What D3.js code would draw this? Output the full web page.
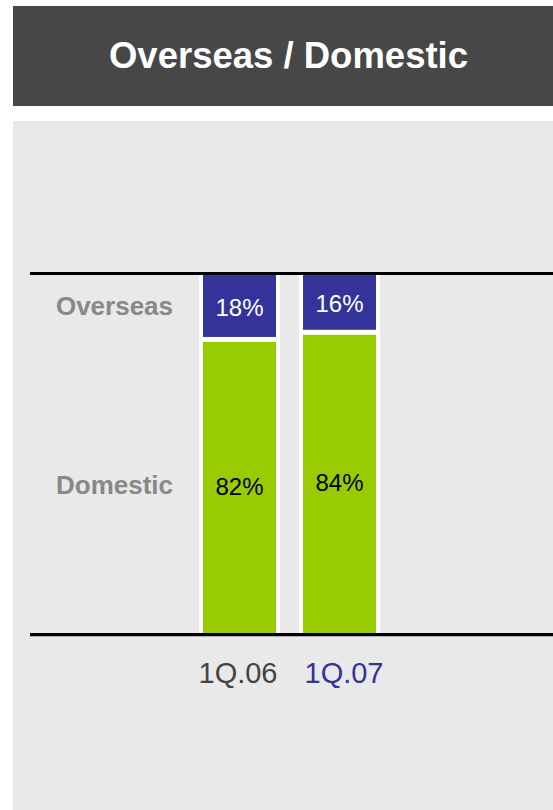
<!DOCTYPE html>
<html>
<head>
<meta charset="utf-8">
<script src="https://cdn.jsdelivr.net/npm/d3@7"></script>
<style>
  body { margin: 0; background: #fff; }
  text { font-family: "Liberation Sans", Arial, sans-serif; }
</style>
</head>
<body>
<script>
// periods on the x axis and the share of each region (in %)
let periods = ["1Q.06", "1Q.07"];
let regions = ["Domestic", "Overseas"];
let domestic = [82, 84];
let overseas = [18, 16];
let tickColors = ["#444444", "#333399"];

let w = 553, h = 810;
let colors = {Domestic: "#99cc00", Overseas: "#333399"};
let labelColors = {Domestic: "#000000", Overseas: "#ffffff"};

let svg = d3.select("body").append("svg")
  .attr("width", w)
  .attr("height", h);

// title box
svg.append("rect")
  .attr("x", 13).attr("y", 6)
  .attr("width", w - 13).attr("height", 100)
  .attr("fill", "#474747");
svg.append("text")
  .text("Overseas / Domestic")
  .attr("x", 288.5).attr("y", 68)
  .attr("text-anchor", "middle")
  .attr("font-size", "36.5px")
  .attr("font-weight", "bold")
  .attr("fill", "#fff");

// grey panel
svg.append("rect")
  .attr("x", 13).attr("y", 121)
  .attr("width", w - 13).attr("height", h - 121)
  .attr("fill", "#e9e9e9");

let yTop = 275, yBottom = 633;
let xScale = d3.scalePoint().domain(periods).range([239.5, 339.5]);
let yScale = d3.scaleLinear().domain([0, 100]).range([yBottom, yTop]);
let barW = 81, inset = 4;

let table = periods.map(function (p, i) {
  return {period: p, Domestic: domestic[i], Overseas: overseas[i]};
});
let series = d3.stack().keys(regions)(table);

// white backing of each bar
svg.selectAll(".back")
  .data(periods)
  .enter().append("rect")
  .attr("class", "back")
  .attr("x", function (d) { return xScale(d) - barW / 2; })
  .attr("y", yTop)
  .attr("width", barW)
  .attr("height", yBottom - yTop)
  .attr("fill", "#fff");

let groups = svg.selectAll(".series")
  .data(series)
  .enter().append("g")
  .attr("class", "series");

groups.selectAll("rect")
  .data(function (s) { return s.map(function (d) { return {key: s.key, d: d}; }); })
  .enter().append("rect")
  .attr("x", function (o) { return xScale(o.d.data.period) - barW / 2 + inset; })
  .attr("y", function (o) {
    return yScale(o.d[1]) + (o.d[1] < 100 ? 2.5 : 0);
  })
  .attr("width", barW - 2 * inset)
  .attr("height", function (o) {
    let y0 = yScale(o.d[0]) - (o.d[0] > 0 ? 2.5 : 0);
    let y1 = yScale(o.d[1]) + (o.d[1] < 100 ? 2.5 : 0);
    return y0 - y1;
  })
  .attr("fill", function (o) { return colors[o.key]; });

groups.selectAll("text")
  .data(function (s) { return s.map(function (d) { return {key: s.key, d: d}; }); })
  .enter().append("text")
  .text(function (o) { return (o.d[1] - o.d[0]) + "%"; })
  .attr("x", function (o) { return xScale(o.d.data.period); })
  .attr("y", function (o) { return (yScale(o.d[0]) + yScale(o.d[1])) / 2; })
  .attr("dy", "0.36em")
  .attr("text-anchor", "middle")
  .attr("font-size", "24px")
  .attr("fill", function (o) { return labelColors[o.key]; });

// row labels on the left
svg.selectAll(".rowlabel")
  .data(series)
  .enter().append("text")
  .attr("class", "rowlabel")
  .text(function (s) { return s.key; })
  .attr("x", 114.5)
  .attr("y", function (s) {
    return d3.mean(s, function (d) { return (yScale(d[0]) + yScale(d[1])) / 2; });
  })
  .attr("dy", "0.36em")
  .attr("text-anchor", "middle")
  .attr("font-size", "26px")
  .attr("font-weight", "bold")
  .attr("fill", "#888888");

// top and bottom rules
svg.append("line")
  .attr("x1", 30).attr("x2", w)
  .attr("y1", yTop - 1.5).attr("y2", yTop - 1.5)
  .attr("stroke", "#000").attr("stroke-width", 3);
svg.append("line")
  .attr("x1", 30).attr("x2", w)
  .attr("y1", yBottom + 1.5).attr("y2", yBottom + 1.5)
  .attr("stroke", "#000").attr("stroke-width", 3);
svg.append("line")
  .attr("x1", 30).attr("x2", w)
  .attr("y1", yBottom + 3.5).attr("y2", yBottom + 3.5)
  .attr("stroke", "#b0b0b0").attr("stroke-width", 1);

// x axis labels
let xAxis = svg.append("g")
  .attr("transform", "translate(0," + yBottom + ")")
  .call(d3.axisBottom(xScale).tickSize(0).tickPadding(29));
xAxis.select(".domain").remove();
xAxis.selectAll("text")
  .attr("font-family", "'Liberation Sans', Arial, sans-serif")
  .attr("font-size", "29px")
  .attr("dx", function (d, i) { return i === 0 ? -2 : 4; })
  .attr("fill", function (d, i) { return tickColors[i]; });
</script>
</body>
</html>
